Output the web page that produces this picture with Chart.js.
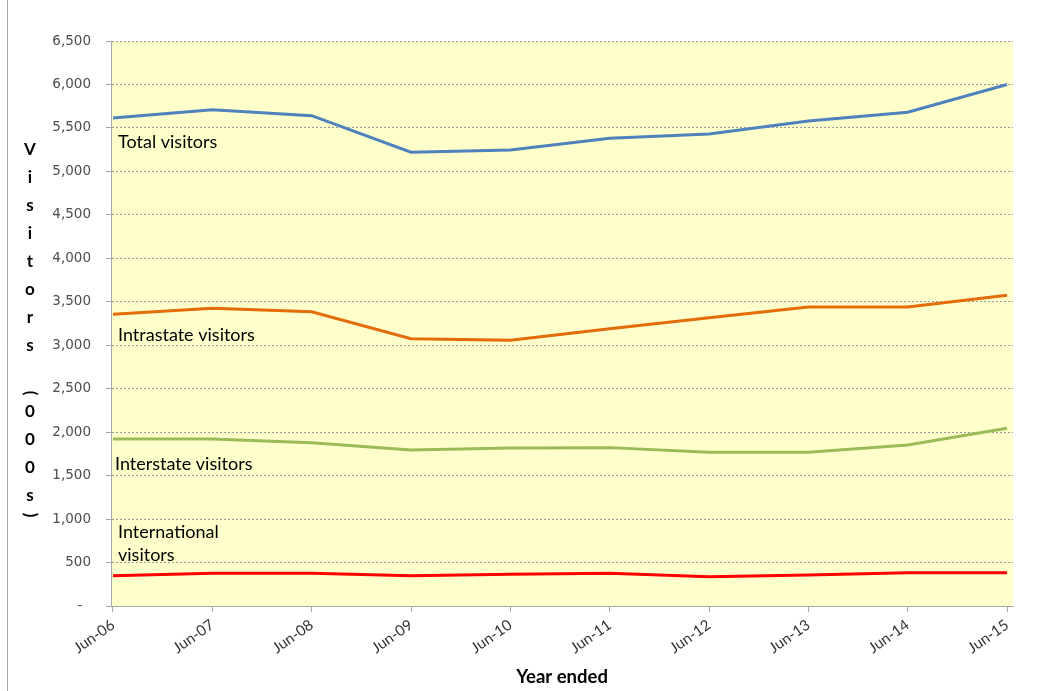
<!DOCTYPE html>
<html>
<head>
<meta charset="utf-8">
<script src="https://cdn.jsdelivr.net/npm/chart.js@4/dist/chart.umd.min.js"></script>
<style>
  html, body { margin: 0; padding: 0; background: #ffffff; }
  canvas { display: block; }
</style>
</head>
<body>
<canvas id="visitorsChart" width="1043" height="691"></canvas>
<script>
// Year-ended categories and visitor counts ('000s)
const categories = ['Jun-06', 'Jun-07', 'Jun-08', 'Jun-09', 'Jun-10', 'Jun-11', 'Jun-12', 'Jun-13', 'Jun-14', 'Jun-15'];
const totalVisitors = [5614, 5710, 5641, 5220, 5246, 5381, 5430, 5580, 5680, 6000];
const intrastateVisitors = [3356, 3425, 3386, 3075, 3057, 3190, 3317, 3440, 3440, 3574];
const interstateVisitors = [1921, 1921, 1879, 1795, 1818, 1822, 1768, 1768, 1852, 2044];
const internationalVisitors = [349, 376, 376, 349, 365, 376, 337, 357, 383, 383];

const yTickLabels = ['-  ', '500', '1,000', '1,500', '2,000', '2,500', '3,000', '3,500', '4,000', '4,500', '5,000', '5,500', '6,000', '6,500'];
const seriesNames = ['Total visitors', 'Intrastate visitors', 'Interstate visitors', ['International', 'visitors']];
const yAxisTitle = 'Visitors (000s)';
const xAxisTitle = 'Year ended';

const seriesColors = ['#4F81BD', '#E46C0A', '#9BBB59', '#FF0000'];
const seriesValues = [totalVisitors, intrastateVisitors, interstateVisitors, internationalVisitors];

const datasets = seriesValues.map((vals, k) => ({
  label: Array.isArray(seriesNames[k]) ? seriesNames[k].join(' ') : seriesNames[k],
  data: vals.map((v, i) => ({ x: i, y: v })),
  borderColor: seriesColors[k],
  backgroundColor: seriesColors[k],
  borderWidth: 3,
  pointRadius: 0,
  tension: 0,
  fill: false
}));

// Pale yellow plot area plus the outer frame line on the left
const plotBackground = {
  id: 'plotBackground',
  beforeDraw(chart) {
    const { ctx, chartArea: a } = chart;
    ctx.save();
    ctx.fillStyle = '#FFFFCC';
    ctx.fillRect(a.left, a.top, a.right - a.left, a.bottom - a.top);
    ctx.strokeStyle = '#a6a6a6';
    ctx.lineWidth = 1;
    ctx.beginPath();
    ctx.moveTo(7.5, 0);
    ctx.lineTo(7.5, chart.height);
    ctx.stroke();
    ctx.restore();
  }
};

// Series names written inside the plot, next to each line
const seriesLabels = {
  id: 'seriesLabels',
  afterDatasetsDraw(chart) {
    const { ctx, chartArea: a } = chart;
    const spots = [
      { x: a.left + 7, y: a.top + 101 },
      { x: a.left + 7, y: a.top + 294 },
      { x: a.left + 4, y: a.top + 423 },
      { x: a.left + 7, y: a.top + 491 }
    ];
    ctx.save();
    ctx.fillStyle = '#000000';
    ctx.font = '18px Lato';
    ctx.textAlign = 'left';
    ctx.textBaseline = 'middle';
    seriesNames.forEach((name, k) => {
      const lines = Array.isArray(name) ? name : [name];
      lines.forEach((ln, j) => ctx.fillText(ln, spots[k].x, spots[k].y + j * 23));
    });
    ctx.restore();
  }
};

// Stacked vertical y-axis title and the x-axis title
const axisTitles = {
  id: 'axisTitles',
  afterDraw(chart) {
    const { ctx, chartArea: a } = chart;
    ctx.save();
    ctx.fillStyle = '#000000';
    ctx.font = 'bold 17px Lato';
    ctx.textAlign = 'center';
    ctx.textBaseline = 'middle';
    let y = 136;
    for (const ch of yAxisTitle) {
      const paren = ch === '(' || ch === ')';
      const adv = paren ? 10 : 28;
      const cy = y + adv / 2;
      if (paren) {
        ctx.save();
        ctx.translate(30, cy);
        ctx.rotate(Math.PI / 2);
        ctx.fillText(ch, 0, 0);
        ctx.restore();
      } else if (ch !== ' ') {
        ctx.fillText(ch, 30, cy);
      }
      y += adv;
    }
    ctx.font = 'bold 18.5px Lato';
    ctx.fillText(xAxisTitle, (a.left + a.right) / 2, 677);
    ctx.restore();
  }
};

new Chart(document.getElementById('visitorsChart'), {
  type: 'line',
  data: { datasets },
  plugins: [plotBackground, seriesLabels, axisTitles],
  options: {
    responsive: false,
    animation: false,
    layout: { padding: { left: 0, top: 41, right: 30, bottom: 0 } },
    plugins: { legend: { display: false }, tooltip: { enabled: false } },
    scales: {
      x: {
        type: 'linear',
        min: -0.02,
        max: 9.06,
        afterBuildTicks: s => { s.ticks = categories.map((_, i) => ({ value: i })); },
        afterFit: s => { s.height = 85; },
        grid: { drawOnChartArea: false, drawTicks: true, tickLength: 6, tickColor: '#a6a6a6', color: '#a6a6a6' },
        border: { display: true, color: '#a6a6a6', width: 1 },
        ticks: {
          autoSkip: false,
          minRotation: 35,
          maxRotation: 35,
          padding: 4,
          color: '#333333',
          font: { family: 'Lato', size: 15 },
          callback: (v, i) => categories[i]
        }
      },
      y: {
        min: 0,
        max: 6500,
        afterFit: s => { s.width = 111; },
        grid: { color: '#999999', lineWidth: 1, drawTicks: true, tickLength: 5, tickColor: '#a6a6a6' },
        border: { display: true, color: '#a6a6a6', width: 1, dash: [2, 2] },
        ticks: {
          stepSize: 500,
          padding: 15,
          color: '#4d4d4d',
          font: { family: 'DejaVu Sans', size: 13.5 },
          callback: (v, i) => yTickLabels[i]
        }
      }
    }
  }
});
</script>
</body>
</html>
